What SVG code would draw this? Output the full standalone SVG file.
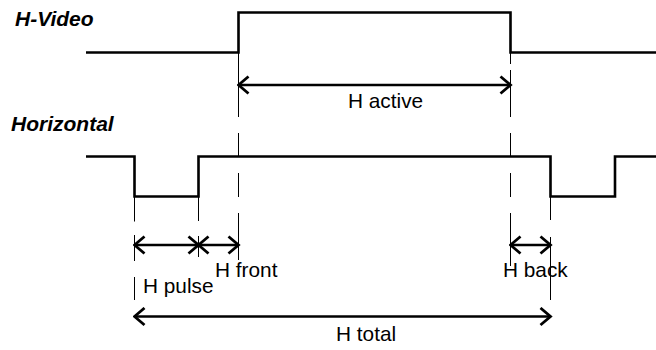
<svg xmlns="http://www.w3.org/2000/svg" width="656" height="350" viewBox="0 0 656 350">
<defs>
<style>
.sig{fill:none;stroke:#000;stroke-width:2.6;stroke-linejoin:miter}
.dash{fill:none;stroke:#000;stroke-width:1}
.arr{fill:none;stroke:#000;stroke-width:2.6;marker-start:url(#ah);marker-end:url(#ah)}
.lbl{font-family:"Liberation Sans",Arial,sans-serif;font-size:20.8px;fill:#000}
.ttl{font-family:"Liberation Sans",Arial,sans-serif;font-size:21px;font-weight:bold;font-style:italic;fill:#000}
</style>
<marker id="ah" viewBox="-12 -10 14 20" markerWidth="14" markerHeight="20" refX="0" refY="0" orient="auto-start-reverse" markerUnits="userSpaceOnUse">
<path d="M-10,-8.5 L0,0 L-10,8.5" fill="none" stroke="#000" stroke-width="2.8"/>
</marker>
</defs>
<rect width="656" height="350" fill="#fff"/>
<g id="title-hvideo"><text class="ttl" x="15" y="26">H-Video</text></g>
<g id="title-horizontal"><text class="ttl" x="11" y="131">Horizontal</text></g>
<g id="signal-hvideo"><path class="sig" d="M86 52.5 H238.5 V12.5 H510.5 V52.5 H656"/></g>
<g id="signal-horizontal"><path class="sig" d="M86 156.5 H134.5 V196.5 H198.5 V156.5 H550.5 V196.5 H615 V156.5 H656"/></g>
<g id="connectors">
<path class="dash" d="M238.5 52.5 V117 M238.5 133 V157 M238.5 173 V197 M238.5 213 V260"/>
<path class="dash" d="M510.5 52.5 V64 M510.5 70 V117 M510.5 133 V157 M510.5 173 V197 M510.5 213 V266"/>
<path class="dash" d="M134.5 196.5 V221.5 M134.5 235 V261 M134.5 277 V300"/>
<path class="dash" d="M198.5 196.5 V221 M198.5 236 V257"/>
<path class="dash" d="M550.5 196.5 V220 M550.5 237 V300"/>
<path class="arr" d="M238.5 85 H510.5"/>
<path class="arr" d="M134.5 245 H198.5"/>
<path class="arr" d="M198.5 245 H238.5"/>
<path class="arr" d="M510.5 245 H550.5"/>
<path class="arr" d="M134.5 316.5 H550.5"/>
</g>
<g id="label-hactive"><text class="lbl" x="348" y="108">H active</text></g>
<g id="label-hfront"><text class="lbl" x="215" y="277">H front</text></g>
<g id="label-hpulse"><text class="lbl" x="143" y="292.5">H pulse</text></g>
<g id="label-hback"><text class="lbl" x="503" y="277">H back</text></g>
<g id="label-htotal"><text class="lbl" x="336" y="341">H total</text></g>
</svg>
